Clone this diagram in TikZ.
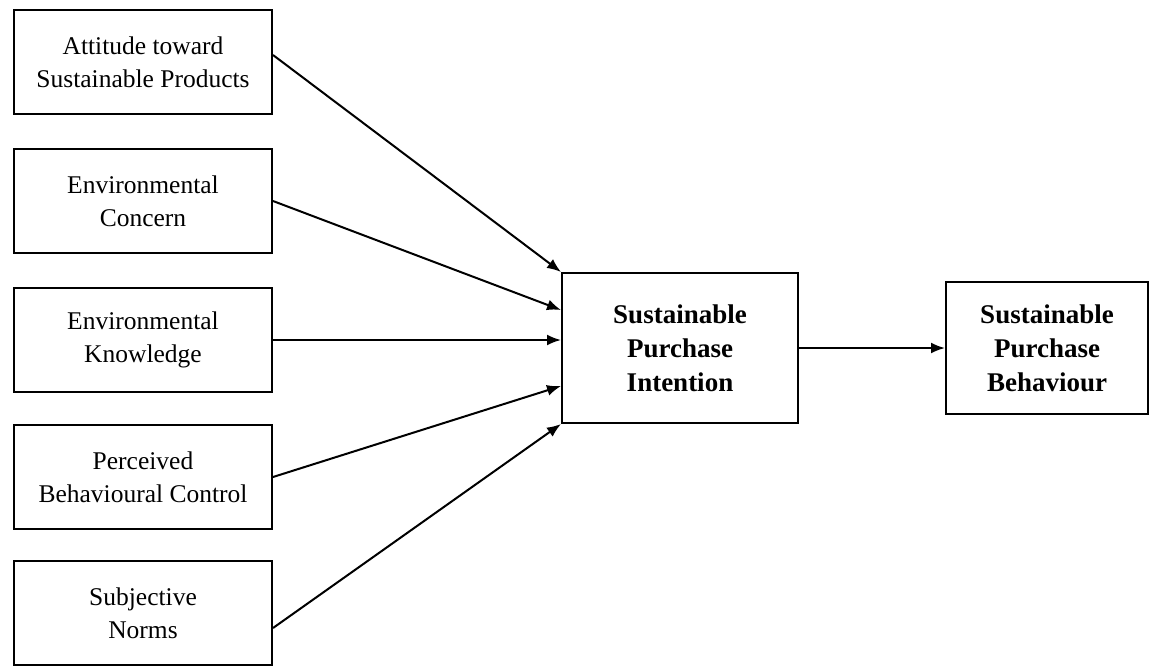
\documentclass[tikz,border=0pt]{standalone}
\usepackage{fontspec}
\setmainfont{Liberation Serif}
\usetikzlibrary{arrows.meta,calc}
\tikzset{
  factor/.style={draw, line width=2pt, minimum width=258pt, minimum height=104pt,
    align=center, inner sep=0pt, font=\fontsize{25.5}{33}\selectfont},
  outcome/.style={draw, line width=2pt, align=center, inner sep=0pt,
    font=\fontsize{27}{34}\selectfont\bfseries},
  link/.style={line width=2pt, -{Latex[length=14pt,width=11pt]}}
}
\begin{document}
\begin{tikzpicture}[x=1pt, y=-1pt]
            \useasboundingbox (0,0) rectangle (1150,665);
            \node[factor] (f1) at (143, 62) {Attitude toward\\Sustainable Products};
            \node[factor] (f2) at (143, 201) {Environmental\\Concern};
            \node[factor] (f3) at (143, 340) {Environmental\\Knowledge};
            \node[factor] (f4) at (143, 477) {Perceived\\Behavioural Control};
            \node[factor] (f5) at (143, 613) {Subjective\\Norms};
            \node[outcome, minimum width=236pt, minimum height=150pt] (spi) at (680, 348) {Sustainable\\Purchase\\Intention};
            \node[outcome, minimum width=202pt, minimum height=132pt] (spb) at (1047, 348) {Sustainable\\Purchase\\Behaviour};
            \draw[link] ([yshift=7pt]f1.east) -- (spi.north west);
            \draw[link] (f2.east) -- ($(spi.north west)!0.25!(spi.south west)$);
            \draw[link] (f3.east) -- (f3.east -| spi.west);
            \draw[link] (f4.east) -- ($(spi.north west)!0.75!(spi.south west)$);
            \draw[link] ([yshift=-15pt]f5.east) -- (spi.south west);
            \draw[link] (spi) -- (spb);
        \end{tikzpicture}
\end{document}
